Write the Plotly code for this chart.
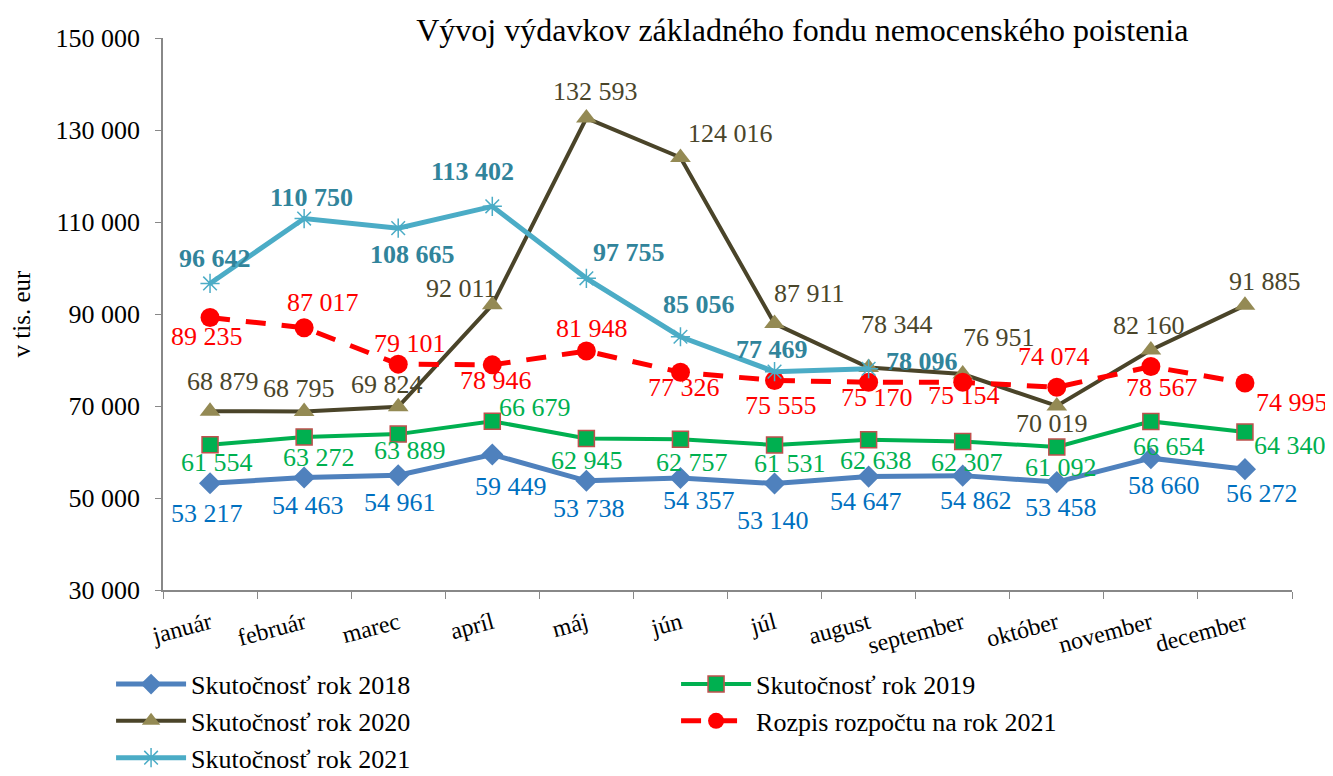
import plotly.graph_objects as go

months = ["január", "február", "marec", "apríl", "máj", "jún", "júl", "august",
          "september", "október", "november", "december"]

s2018 = [53217, 54463, 54961, 59449, 53738, 54357, 53140, 54647, 54862, 53458, 58660, 56272]
s2019 = [61554, 63272, 63889, 66679, 62945, 62757, 61531, 62638, 62307, 61092, 66654, 64340]
s2020 = [68879, 68795, 69824, 92011, 132593, 124016, 87911, 78344, 76951, 70019, 82160, 91885]
s2021 = [96642, 110750, 108665, 113402, 97755, 85056, 77469, 78096]
rozpis2021 = [89235, 87017, 79101, 78946, 81948, 77326, 75555, 75170, 75154, 74074, 78567, 74995]

names = ["Skutočnosť rok 2018", "Skutočnosť rok 2019", "Skutočnosť rok 2020",
         "Rozpis rozpočtu na rok 2021", "Skutočnosť rok 2021"]

# label offsets in px (dx right, dy down)
off2018 = [(-3, 30), (4, 28), (2, 27), (19, 32), (3, 28), (19, 23), (-2, 37), (-3, 25), (13, 25), (4, 25), (13, 27), (17, 24)]
off2019 = [(7, 18), (15, 21), (12, 16), (43, -14), (1, 22), (12, 23), (15, 19), (7, 21), (4, 21), (4, 21), (18, 25), (45, 13)]
off2020 = [(13, -30), (-5, -23), (-11, -22), (-31, -16), (9, -27), (50, -24), (35, -30), (28, -43), (36, -37), (-5, 18), (-2, -25), (20, -24)]
off2021 = [(5, -25), (7, -21), (14, 26), (-20, -35), (43, -26), (19, -32), (-3, -22), (53, -7)]
offRoz = [(-3, 19), (19, -25), (12, -21), (4, 16), (6, -23), (4, 15), (6, 25), (8, 15), (1, 13), (-3, -31), (11, 21), (47, 19)]

FONT = "Liberation Serif, Times New Roman, serif"
LBL = 26

def fmt(v):
    return f"{v:,}".replace(",", " ")

fig = go.Figure()

fig.add_trace(go.Scatter(
    x=months, y=s2018, name=names[0], mode="lines+markers",
    line=dict(color="#4f81bd", width=5),
    marker=dict(symbol="diamond", size=17, color="#4f81bd"),
))
fig.add_trace(go.Scatter(
    x=months, y=s2019, name=names[1], mode="lines+markers",
    line=dict(color="#00b050", width=4),
    marker=dict(symbol="square", size=16, color="#00b050", line=dict(color="#c0504d", width=1.5)),
))
fig.add_trace(go.Scatter(
    x=months, y=s2020, name=names[2], mode="lines+markers",
    line=dict(color="#4a4429", width=4),
    marker=dict(symbol="triangle-up", size=18, color="#948a54"),
))
fig.add_trace(go.Scatter(
    x=months, y=rozpis2021, name=names[3], mode="lines+markers",
    line=dict(color="#ff0000", width=5, dash="20px,16px"),
    marker=dict(symbol="circle", size=19, color="#ff0000"),
))
fig.add_trace(go.Scatter(
    x=months[:len(s2021)], y=s2021, name=names[4], mode="lines+markers",
    line=dict(color="#4bacc6", width=5),
    marker=dict(symbol="asterisk-open", size=16, color="#4bacc6", line=dict(color="#4bacc6", width=1.5)),
))

annotations = []
def add_labels(vals, offs, color, bold=False):
    for m, v, (dx, dy) in zip(months, vals, offs):
        txt = fmt(v)
        if bold:
            txt = f"<b>{txt}</b>"
        annotations.append(dict(
            x=m, y=v, xref="x", yref="y", text=txt, showarrow=False,
            xshift=dx, yshift=-dy, font=dict(family=FONT, size=LBL, color=color),
        ))

add_labels(s2018, off2018, "#0070c0")
add_labels(s2019, off2019, "#00b050")
add_labels(s2020, off2020, "#4a452a")
add_labels(rozpis2021, offRoz, "#ff0000")
add_labels(s2021, off2021, "#31849b", bold=True)

# page body adds an 8px offset, so the figure is 8px smaller than the window
fig.update_layout(
    width=1325, height=768,
    margin=dict(l=155, r=41, t=30, b=186, autoexpand=False),
    paper_bgcolor="white", plot_bgcolor="white",
    separators=", ",
    font=dict(family=FONT, size=26, color="black"),
    title=dict(text="Vývoj výdavkov základného fondu nemocenského poistenia",
               x=0.5995, xref="container", xanchor="center",
               y=0.971, yref="container", yanchor="middle",
               font=dict(family=FONT, size=32, color="black")),
    annotations=annotations,
    showlegend=True,
    legend=dict(orientation="h", x=-0.046, xanchor="left", y=-0.128, yanchor="top",
                entrywidth=480, entrywidthmode="pixels", itemwidth=70,
                font=dict(family=FONT, size=26, color="black"),
                traceorder="normal", bgcolor="rgba(0,0,0,0)", tracegroupgap=0),
)

fig.update_xaxes(
    type="category", tickson="boundaries", ticks="outside", ticklen=7,
    tickcolor="#888888", showline=True, linecolor="#888888", linewidth=1.5,
    showgrid=False, tickangle=-15, tickfont=dict(family=FONT, size=24, color="black"),
    range=[-0.5, 11.5], automargin=False, ticklabelstandoff=8,
)
fig.update_yaxes(
    range=[30000, 150000], dtick=20000, tick0=30000, tickformat=",d",
    ticks="outside", ticklen=6, tickcolor="#888888",
    showline=True, linecolor="#888888", linewidth=1.5, showgrid=False, zeroline=False,
    tickfont=dict(family=FONT, size=26, color="black"), automargin=False,
    ticklabelstandoff=10,
    title=dict(text="v tis. eur", font=dict(family=FONT, size=25, color="black"), standoff=24),
)

fig.write_html("out.html")
